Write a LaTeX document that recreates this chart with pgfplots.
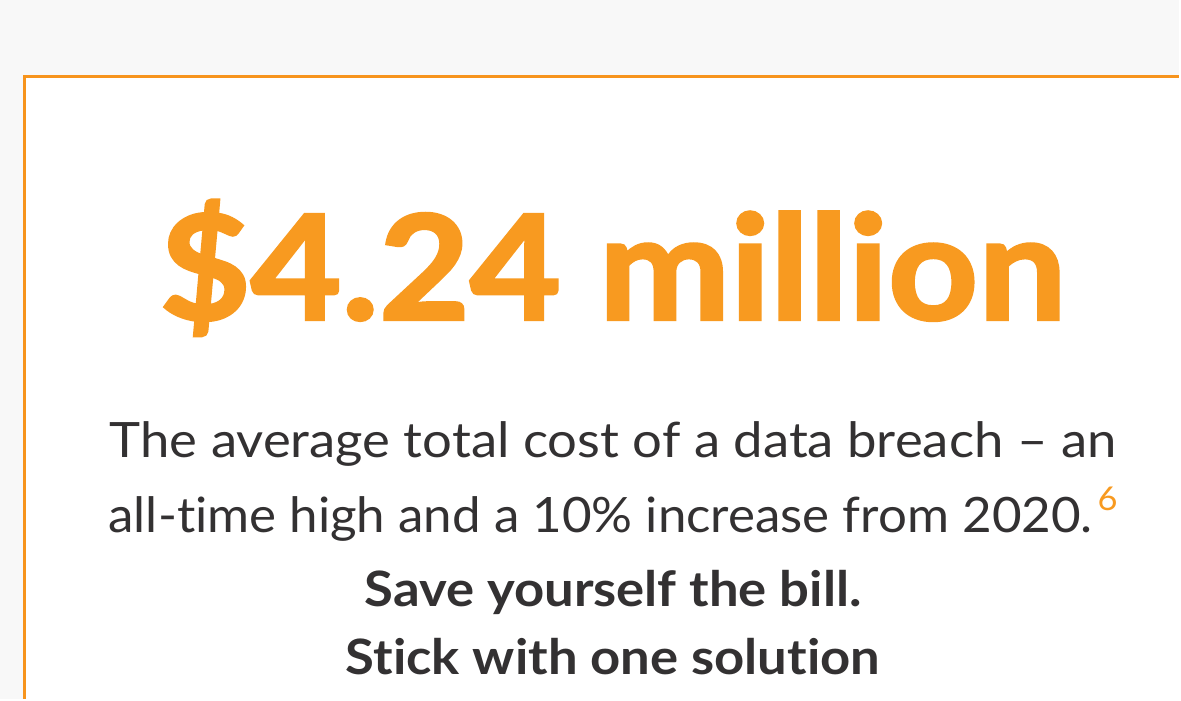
\documentclass[border=0pt]{standalone}
\usepackage{pgfplots}
\pgfplotsset{compat=1.18}
\usepackage{fontspec}
\setmainfont[FakeStretch=1.08,Ligatures=NoCommon]{Lato}
\newfontfamily\titlefont[FakeBold=2.2,FakeStretch=1.08,Ligatures=NoCommon]{Lato Bold}
\definecolor{bggray}{HTML}{F8F8F8}
\definecolor{brandorange}{HTML}{F89A20}
\definecolor{borderorange}{HTML}{F7941D}
\definecolor{darktext}{HTML}{333132}
\begin{document}
\begin{tikzpicture}
\begin{axis}[width=1181bp,height=700bp,scale only axis,
  xmin=0,xmax=1181,ymin=0,ymax=700,y dir=reverse,hide axis,clip=false]
\fill[bggray] (axis cs:0,0) rectangle (axis cs:1181,700);
\fill[white] (axis cs:24.5,76.5) rectangle (axis cs:1181,700);
\addplot[borderorange,line width=3.5bp,line cap=butt,line join=miter] coordinates {(24.5,700) (24.5,76.5) (1181,76.5)};
\node[anchor=base,text=brandorange,inner sep=0pt] at (axis cs:614,320)
  {\titlefont\fontsize{146}{146}\selectfont \$4.24 million};
\node[anchor=base,text=darktext,inner sep=0pt] at (axis cs:614,458)
  {\fontsize{49}{49}\selectfont The average total cost of a data breach – an};
\node[anchor=base,text=darktext,inner sep=0pt] at (axis cs:614,533)
  {\scalebox{0.97}[1]{\fontsize{49}{49}\selectfont all-time high and a 10\% increase from 2020.\hspace{5bp}{\color{brandorange}\raisebox{22bp}{\fontsize{33}{33}\selectfont 6}}}};
\node[anchor=base,text=darktext,inner sep=0pt] at (axis cs:614,607)
  {\fontsize{49}{49}\selectfont\bfseries Save yourself the bill.};
\node[anchor=base,text=darktext,inner sep=0pt] at (axis cs:614,676)
  {\fontsize{49}{49}\selectfont\bfseries Stick with one solution};
\end{axis}
\end{tikzpicture}
\end{document}
